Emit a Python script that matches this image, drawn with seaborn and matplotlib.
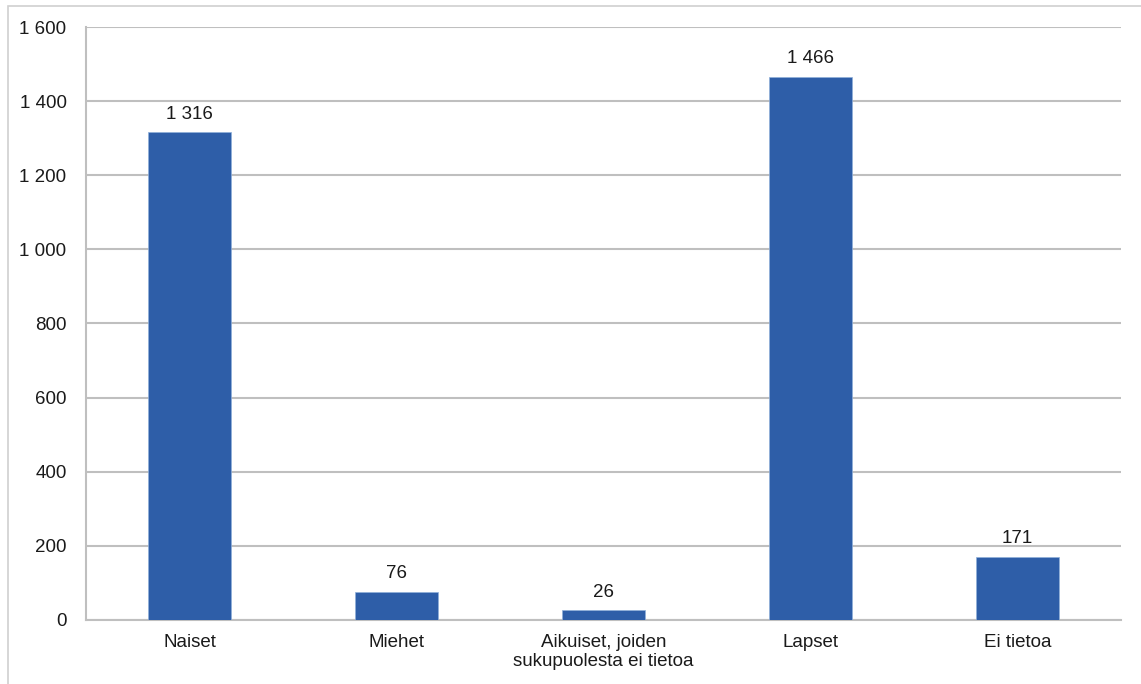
import matplotlib
matplotlib.use("Agg")
import matplotlib.pyplot as plt
import seaborn as sns
import pandas as pd
from matplotlib.patches import Rectangle
from matplotlib.ticker import FuncFormatter

categories = ["Naiset", "Miehet", "Aikuiset, joiden\nsukupuolesta ei tietoa", "Lapset", "Ei tietoa"]
values = [1316, 76, 26, 1466, 171]
yticks = [0, 200, 400, 600, 800, 1000, 1200, 1400, 1600]

def fmt(v):
    return f"{int(v):,}".replace(",", " ")

sns.set_theme(style="white")
plt.rcParams['font.family'] = ['Liberation Sans', 'DejaVu Sans']

df = pd.DataFrame({"cat": categories, "val": values})

fig = plt.figure(figsize=(11.41, 6.84), dpi=100)
ax = fig.add_axes([0.0754, 0.0936, 0.9071, 0.8669])

sns.barplot(data=df, x="cat", y="val", color="#2E5EA8", width=0.4, ax=ax,
            saturation=1, edgecolor="#8FB0DA", linewidth=0.5, zorder=3)

ax.set_ylim(0, 1600)
ax.set_xlim(-0.5, len(categories) - 0.5)
ax.set_yticks(yticks)
ax.yaxis.set_major_formatter(FuncFormatter(lambda v, p: fmt(v)))
ax.grid(axis="y", color="#BFBFBF", linewidth=1.5, zorder=0)
ax.set_axisbelow(True)
for s in ["top", "right"]:
    ax.spines[s].set_visible(False)
ax.spines["left"].set_color("#BFBFBF")
ax.spines["bottom"].set_color("#BFBFBF")
ax.spines["left"].set_linewidth(1.5)
ax.spines["bottom"].set_linewidth(1.5)
ax.set_xlabel("")
ax.set_ylabel("")
ax.tick_params(axis="both", length=0, labelsize=13.5, colors="#1A1A1A")
ax.tick_params(axis="y", pad=14)
ax.tick_params(axis="x", pad=10)

for i, v in enumerate(values):
    ax.annotate(fmt(v), (i, v), xytext=(0, 7), textcoords="offset points",
                ha="center", va="bottom", fontsize=13.5, color="#1A1A1A")

fig.patches.append(Rectangle((8 / 1141, -0.01), 1.02, 1 - 6 / 684 + 0.01,
                             transform=fig.transFigure, fill=False,
                             edgecolor="#D0D0D0", linewidth=1.2))

fig.savefig("out.png", dpi=100)
